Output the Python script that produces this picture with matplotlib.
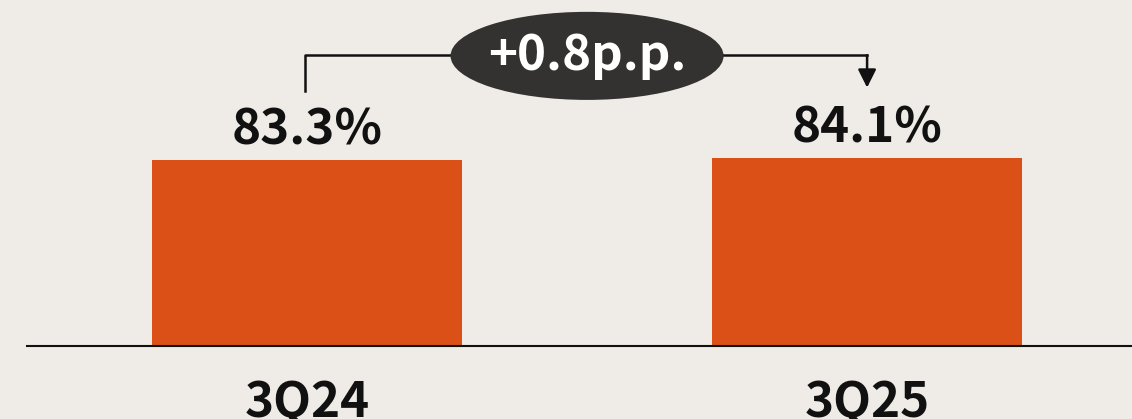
import matplotlib.pyplot as plt
from matplotlib.patches import Ellipse

categories = ["3Q24", "3Q25"]
values = [83.3, 84.1]
value_labels = ["83.3%", "84.1%"]
change_label = "+0.8p.p."

bg = "#efebe7"
bar_color = "#db5016"
dark = "#333230"

plt.rcParams['font.family'] = ['Noto Sans CJK KR', 'DejaVu Sans']

fig = plt.figure(figsize=(11.32, 4.19), dpi=100, facecolor=bg)
ax = fig.add_axes([27 / 1132, 73 / 419, 1105 / 1132, 346 / 419])
ax.set_facecolor(bg)

x = list(range(len(categories)))
ax.bar(x, values, width=0.554, color=bar_color, zorder=2)

ax.set_xlim(-0.5, 1.473)
ax.set_ylim(0, 154.8)

for s in ["top", "right", "left"]:
    ax.spines[s].set_visible(False)
ax.spines["bottom"].set_linewidth(1.5)
ax.spines["bottom"].set_color("#111111")
ax.set_yticks([])
ax.set_xticks([])

for xi, v, lab, cat in zip(x, values, value_labels, categories):
    ax.annotate(lab, (xi, v), xytext=(0, 30), textcoords="offset pixels",
                ha="center", va="center", fontsize=35.5, fontweight="bold",
                color="#111111")
    ax.annotate(cat, (xi, 0), xytext=(0, -57), textcoords="offset pixels",
                ha="center", va="center", fontsize=35.5, fontweight="bold",
                color="#111111", annotation_clip=False)

# bracket with arrow
top_y = max(values) + 46
ax.plot([x[0] - 0.004, x[0] - 0.004, x[1]], [values[0] + 31, top_y, top_y],
        color="#111111", lw=1.8, zorder=3, clip_on=False)
ax.annotate("", xy=(x[1], values[1] + 31.5), xytext=(x[1], top_y),
            arrowprops=dict(arrowstyle="-|>,head_length=1.1,head_width=0.55",
                            color="#111111", lw=1.8, shrinkA=0, shrinkB=0),
            zorder=3)

ell = Ellipse(((x[0] + x[1]) / 2, top_y - 0.3), width=0.4875, height=39.4,
              facecolor=dark, edgecolor="none", zorder=4, clip_on=False)
ax.add_patch(ell)
ax.text((x[0] + x[1]) / 2, top_y - 0.3, change_label, ha="center",
        va="center", fontsize=35.5, fontweight="bold", color="white", zorder=5)

fig.savefig("out.png", dpi=100, facecolor=bg)
